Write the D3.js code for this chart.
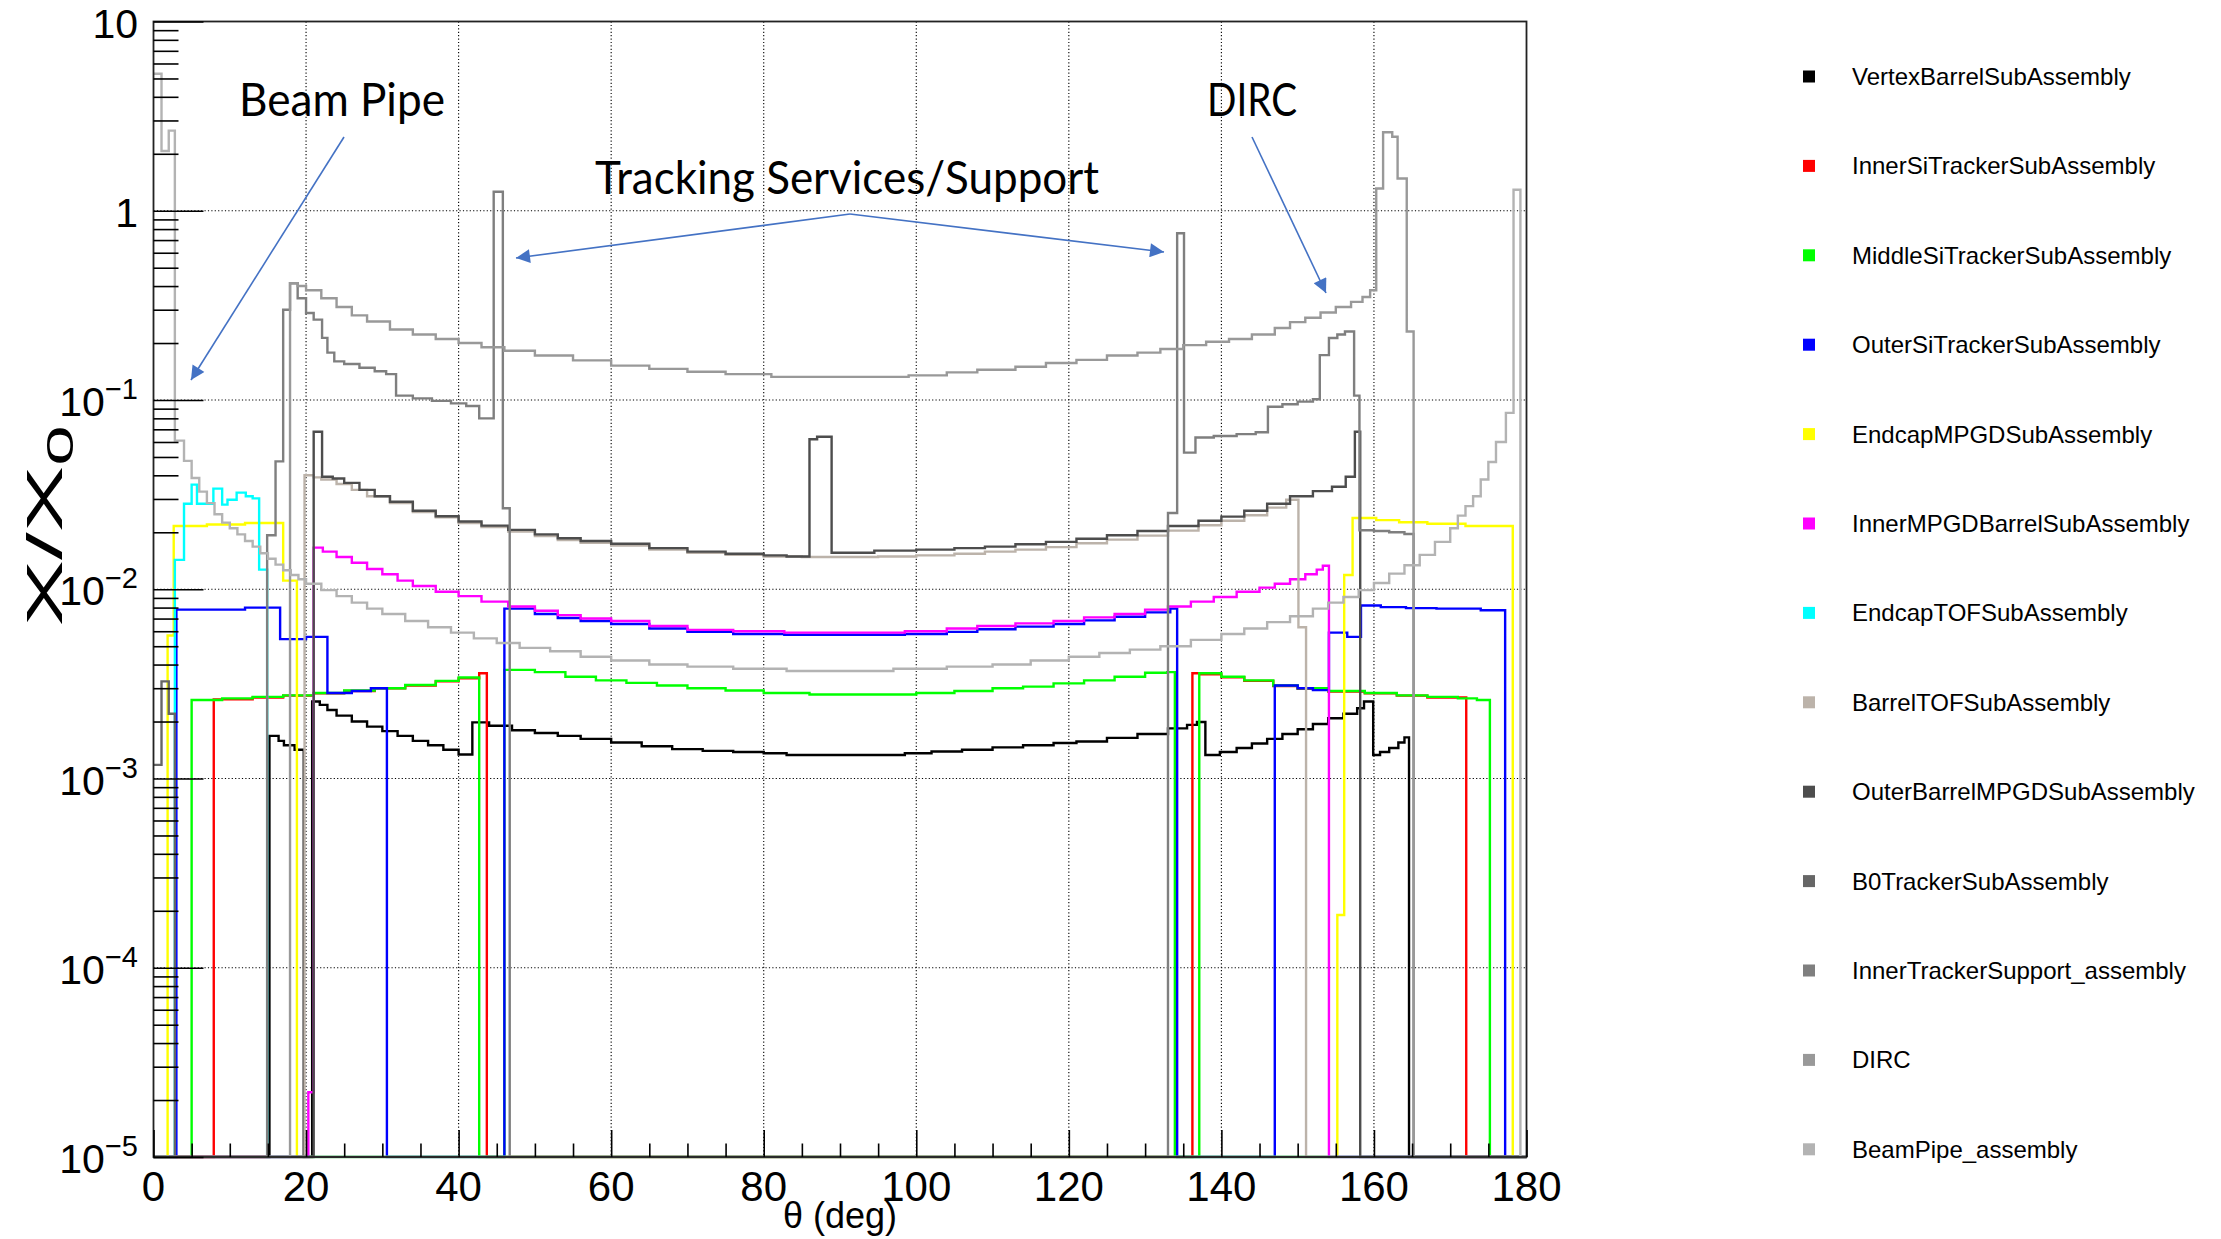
<!DOCTYPE html>
<html>
<head>
<meta charset="utf-8">
<script src="https://cdn.jsdelivr.net/npm/d3@7"></script>
<style>
  html, body { margin: 0; padding: 0; background: #ffffff; }
  svg { display: block; }
</style>
</head>
<body>
<svg id="chart" width="2221" height="1239"></svg>
<script>
// ---- axis ticks ----
var thetaMajor = [0, 20, 40, 60, 80, 100, 120, 140, 160, 180];
var yDecades = [1e-5, 1e-4, 1e-3, 1e-2, 1e-1, 1, 10];

// ---- legend ----
var seriesNames = ["VertexBarrelSubAssembly", "InnerSiTrackerSubAssembly", "MiddleSiTrackerSubAssembly",
  "OuterSiTrackerSubAssembly", "EndcapMPGDSubAssembly", "InnerMPGDBarrelSubAssembly", "EndcapTOFSubAssembly",
  "BarrelTOFSubAssembly", "OuterBarrelMPGDSubAssembly", "B0TrackerSubAssembly", "InnerTrackerSupport_assembly",
  "DIRC", "BeamPipe_assembly"];
var seriesColors = ["#000000", "#ff0000", "#00ff00", "#0000ff", "#ffff00", "#ff00ff", "#00ffff",
  "#bcb3aa", "#4d4d4d", "#666666", "#7f7f7f", "#999999", "#b3b3b3"];

// ---- series: [theta, X/X0] pairs, value holds until the next theta, 0 = empty bin ----
var vertexBarrel = [[15.2, 1.68e-3], [16.4, 1.58e-3], [17.1, 1.5e-3], [18.5, 1.42e-3], [19.7, 0],
  [20.8, 2.55e-3], [21.8, 2.45e-3], [22.8, 2.3e-3], [24, 2.15e-3], [26, 2.0e-3], [28, 1.88e-3], [30, 1.78e-3],
  [32, 1.68e-3], [34, 1.58e-3], [36, 1.5e-3], [38, 1.42e-3], [40, 1.34e-3], [41.8, 1.98e-3], [44, 1.9e-3],
  [47, 1.8e-3], [50, 1.74e-3], [53, 1.68e-3], [56, 1.62e-3], [60, 1.55e-3], [64, 1.48e-3], [68, 1.43e-3],
  [72, 1.4e-3], [76, 1.38e-3], [80, 1.36e-3], [83, 1.33e-3], [98.5, 1.36e-3], [102, 1.39e-3], [106, 1.42e-3],
  [110, 1.46e-3], [114, 1.5e-3], [118, 1.54e-3], [121, 1.57e-3], [125, 1.64e-3], [129, 1.72e-3],
  [133, 1.84e-3], [135.5, 1.92e-3], [136.8, 1.99e-3], [137.9, 1.33e-3], [139.8, 1.38e-3], [142, 1.45e-3],
  [144, 1.53e-3], [146, 1.62e-3], [148, 1.72e-3], [150, 1.82e-3], [152, 1.94e-3], [154, 2.08e-3],
  [156, 2.2e-3], [157.8, 2.35e-3], [158.7, 2.55e-3], [159.9, 1.33e-3], [160.8, 1.38e-3], [162, 1.45e-3],
  [163.2, 1.55e-3], [164, 1.65e-3], [164.6, 0]];

var innerSiTracker = [[7.9, 2.62e-3], [13, 2.68e-3], [17, 2.74e-3], [21, 2.82e-3], [25, 2.9e-3], [29, 3.0e-3],
  [33, 3.1e-3], [37, 3.26e-3], [40, 3.38e-3], [42.7, 3.6e-3], [43.7, 0],
  [136.2, 3.6e-3], [137.2, 3.55e-3], [140, 3.43e-3], [143, 3.28e-3], [146.8, 3.08e-3], [150, 2.98e-3],
  [154, 2.88e-3], [158.8, 2.82e-3], [163, 2.74e-3], [167, 2.68e-3], [172.1, 0]];

var middleSiTracker = [[5.0, 2.6e-3], [9, 2.65e-3], [13, 2.7e-3], [17, 2.75e-3], [21, 2.83e-3], [25, 2.92e-3],
  [29, 3.0e-3], [33, 3.12e-3], [37, 3.28e-3], [40, 3.42e-3], [42.7, 0],
  [46.0, 3.75e-3], [50, 3.65e-3], [54, 3.45e-3], [58, 3.3e-3], [62, 3.2e-3], [66, 3.1e-3], [70, 3.0e-3],
  [75, 2.92e-3], [80, 2.83e-3], [86, 2.78e-3], [94, 2.78e-3], [100, 2.83e-3], [105, 2.9e-3], [110, 3.0e-3],
  [114, 3.06e-3], [118, 3.18e-3], [122, 3.3e-3], [126, 3.45e-3], [130, 3.62e-3], [132.9, 3.65e-3], [133.9, 0],
  [137.1, 3.6e-3], [140, 3.45e-3], [143, 3.3e-3], [146.8, 3.1e-3], [150, 3.0e-3], [154, 2.9e-3],
  [158.8, 2.83e-3], [163, 2.75e-3], [167, 2.7e-3], [171, 2.65e-3], [173.5, 2.6e-3], [175.2, 0]];

var outerSiTracker = [[3.0, 7.8e-3], [12.0, 8.0e-3], [16.6, 5.45e-3], [20, 5.6e-3], [22.8, 2.83e-3],
  [26, 2.9e-3], [28.5, 3.0e-3], [30.6, 0],
  [46.0, 7.9e-3], [50, 7.4e-3], [53, 7.05e-3], [56, 6.8e-3], [60, 6.55e-3], [65, 6.2e-3], [70, 5.95e-3],
  [76, 5.8e-3], [82.7, 5.75e-3], [98.5, 5.8e-3], [104, 5.95e-3], [108, 6.15e-3], [113, 6.35e-3],
  [118, 6.55e-3], [122, 6.85e-3], [126, 7.15e-3], [130, 7.55e-3], [133.3, 7.9e-3], [134.2, 0],
  [147.0, 3.1e-3], [150, 3.0e-3], [152, 2.93e-3], [154.1, 5.9e-3], [156.5, 5.6e-3], [158.3, 8.2e-3],
  [160.9, 8.05e-3], [164.2, 7.95e-3], [168.2, 7.9e-3], [174.0, 7.75e-3], [177.2, 0]];

var endcapMPGD = [[1.85, 5.7e-3], [2.65, 0.0216], [7, 0.022], [12, 0.0224], [17.0, 0.0111], [18.8, 0],
  [155.2, 1.9e-4], [156.1, 0.0119], [157.2, 0.0238], [160.3, 0.0232], [163.3, 0.0226], [167, 0.0222],
  [172, 0.0216], [178.2, 0]];

var innerMPGDBarrel = [[20.3, 2.2e-5], [21.0, 0.0166], [22.2, 0.0158], [24, 0.0148], [26, 0.0138],
  [28, 0.0128], [30, 0.012], [32, 0.0111], [34, 0.0104], [37, 0.0097], [40, 0.0092], [43, 0.0086],
  [46.5, 0.0081], [50, 0.0077], [53, 0.0073], [56, 0.007], [60, 0.0068], [65, 0.0064], [70, 0.0061],
  [76, 0.006], [82.7, 0.0059], [98.5, 0.006], [104, 0.0062], [108, 0.0064], [113, 0.0066], [118, 0.0068],
  [122, 0.0071], [126, 0.0074], [130, 0.0078], [133, 0.0081], [136, 0.0086], [139, 0.0091], [142, 0.0097],
  [145, 0.0102], [147, 0.0107], [149, 0.0113], [151, 0.012], [152.5, 0.0127], [153.3, 0.0133], [154.1, 0]];

var endcapTOF = [[2.8, 0.0143], [4.0, 0.0283], [5.0, 0.0357], [5.7, 0.0283], [7.85, 0.034], [9.0, 0.028],
  [9.7, 0.0297], [10.9, 0.0324], [12.1, 0.031], [13.0, 0.0302], [13.85, 0.0127], [14.9, 0]];

var barrelTOF = [[19.8, 0.040], [21.0, 0.039], [22, 0.038], [24, 0.036], [26, 0.0335], [28, 0.031],
  [31, 0.0285], [34, 0.0256], [37, 0.024], [40, 0.0224], [43, 0.0213], [46.5, 0.0202], [50, 0.0191],
  [53, 0.0182], [56, 0.0176], [60, 0.017], [65, 0.0162], [70, 0.0156], [75, 0.0152], [80, 0.0149],
  [85, 0.0148], [95, 0.0149], [100, 0.0151], [105, 0.0154], [109, 0.0158], [113, 0.0162], [117, 0.0167],
  [121, 0.0175], [125, 0.0183], [129, 0.0192], [133, 0.0204], [137, 0.0218], [140, 0.023], [143, 0.0246],
  [146, 0.027], [148.5, 0.0297], [150.1, 0.0063], [151.1, 0]];

var outerBarrelMPGD = [[21.0, 0.068], [22.1, 0.0393], [23.5, 0.0385], [25, 0.0365], [27, 0.0335],
  [29, 0.031], [31, 0.029], [34, 0.026], [37, 0.0243], [40, 0.0228], [43, 0.0217], [46.5, 0.0206],
  [50, 0.0195], [53, 0.0186], [56, 0.018], [60, 0.0174], [65, 0.0165], [70, 0.0158], [75, 0.0154],
  [80, 0.0151], [83, 0.0149], [86.0, 0.062], [87, 0.064], [88.9, 0.0156], [94.5, 0.016], [100, 0.0162],
  [105, 0.0165], [109, 0.0168], [113, 0.0173], [117, 0.0178], [121, 0.0185], [125, 0.0193], [129, 0.0203],
  [133, 0.0216], [137, 0.023], [140, 0.0242], [143, 0.026], [146, 0.0283], [149, 0.031], [152, 0.033],
  [154.5, 0.0348], [156.3, 0.0393], [157.5, 0.068], [158.2, 0]];

var b0Tracker = [[0, 1.18e-3], [1.05, 3.26e-3], [2.0, 2.2e-3], [2.8, 0]];

var innerTrackerSupport = [[14.9, 0.0193], [16.0, 0.0474], [17.0, 0.30], [17.9, 0.414], [18.9, 0.345],
  [20.0, 0.288], [21.0, 0.266], [22.1, 0.213], [22.8, 0.178], [23.7, 0.16], [25, 0.155], [27, 0.148],
  [29, 0.142], [30.5, 0.137], [31.8, 0.1055], [34, 0.102], [36.5, 0.099], [39, 0.096], [41, 0.093],
  [42.7, 0.080], [44.6, 1.26], [45.8, 0.0268], [46.7, 0],
  [133.0, 0.0253], [134.2, 0.76], [135.1, 0.0527], [136.6, 0.0634], [139, 0.0645], [142, 0.066],
  [144.5, 0.0675], [146.1, 0.0922], [148, 0.095], [150, 0.098], [152, 0.101], [152.9, 0.1726],
  [154.1, 0.2127], [155.2, 0.222], [156.2, 0.23], [157.4, 0.1055], [158.1, 0.0205], [160, 0.0203],
  [162, 0.020], [164, 0.0196], [165.2, 0]];

var dirc = [[17.9, 0.414], [18.9, 0.40], [20, 0.38], [22, 0.345], [24, 0.31], [26, 0.28], [28, 0.26],
  [31, 0.236], [34, 0.222], [37, 0.21], [40, 0.2], [43, 0.19], [46, 0.182], [50, 0.172], [55, 0.162],
  [60, 0.152], [65, 0.146], [70, 0.141], [75, 0.137], [81, 0.1325], [99, 0.135], [104, 0.14], [108, 0.1445],
  [113, 0.15], [117, 0.157], [121, 0.163], [125, 0.172], [129, 0.178], [132, 0.186], [135, 0.195],
  [138, 0.203], [141, 0.21], [144, 0.222], [147, 0.24], [149, 0.258], [151, 0.272], [153, 0.29],
  [155, 0.31], [157, 0.33], [158.5, 0.35], [159.5, 0.38], [160.3, 1.31], [161.2, 2.60], [162.4, 2.46],
  [163.1, 1.48], [164.3, 0.23], [165.2, 0]];

var beamPipe = [[0, 5.3], [1.05, 2.07], [2.0, 2.65], [2.8, 0.061], [4, 0.0477], [5, 0.0387], [6, 0.0328],
  [7, 0.0285], [8, 0.0249], [9, 0.0225], [10, 0.021], [11, 0.0195], [12, 0.018], [13, 0.0168],
  [14, 0.0155], [15, 0.0145], [16, 0.0135], [17, 0.0126], [18, 0.0119], [19, 0.0113], [20, 0.0107],
  [22, 0.0099], [24, 0.0092], [26, 0.0085], [28, 0.0079], [30, 0.0074], [33, 0.0068], [36, 0.0063],
  [39, 0.0059], [42, 0.0055], [45, 0.0052], [48, 0.0049], [52, 0.0047], [56, 0.0044], [60, 0.0042],
  [65, 0.004], [70, 0.0039], [76, 0.0038], [83, 0.0037], [97, 0.0038], [104, 0.0039], [110, 0.004],
  [115, 0.0042], [120, 0.0044], [124, 0.0046], [128, 0.0048], [132, 0.005], [136, 0.0054], [140, 0.0058],
  [143, 0.0062], [146, 0.0067], [149, 0.0072], [152, 0.0079], [154, 0.0085], [156, 0.0091], [158, 0.0099],
  [160, 0.0108], [162, 0.0121], [164, 0.0134], [166, 0.0152], [168, 0.0178], [170, 0.021], [171, 0.0245],
  [172, 0.0275], [173, 0.031], [174, 0.038], [175, 0.047], [176, 0.06], [177.3, 0.0855], [178.3, 1.29],
  [179.2, 0]];

var allSeries = [vertexBarrel, innerSiTracker, middleSiTracker, outerSiTracker, endcapMPGD, innerMPGDBarrel,
  endcapTOF, barrelTOF, outerBarrelMPGD, b0Tracker, innerTrackerSupport, dirc, beamPipe];

// ---- annotations ----
var noteLabels = [
  {text: "Beam Pipe", x: 239, y: 116, len: 206},
  {text: "Tracking Services/Support", x: 595, y: 194, len: 504},
  {text: "DIRC", x: 1207, y: 116, len: 90}
];
var noteArrows = [
  [[344, 137], [191, 380]],
  [[850, 214], [516, 258]],
  [[850, 214], [1164, 252]],
  [[1252, 137], [1326, 293]]
];

// ---- frame ----
var frame = {left: 153.5, right: 1526.5, top: 21.5, bottom: 1157};

var svg = d3.select("#chart");
var x = d3.scaleLinear().domain([0, 180]).range([frame.left, frame.right]);
var y = d3.scaleLog().domain([1e-5, 10]).range([frame.bottom, frame.top]);

svg.append("rect").attr("width", 2221).attr("height", 1239).attr("fill", "#ffffff");

// dotted grid
var grid = svg.append("g").attr("stroke", "#000").attr("stroke-width", 1.1).attr("stroke-dasharray", "1.2,2.2");
grid.selectAll(".gx").data(thetaMajor.slice(1, -1)).enter().append("line")
  .attr("x1", function(d) { return x(d); }).attr("x2", function(d) { return x(d); })
  .attr("y1", frame.top).attr("y2", frame.bottom);
grid.selectAll(".gy").data(yDecades.slice(1, -1)).enter().append("line")
  .attr("x1", frame.left).attr("x2", frame.right)
  .attr("y1", function(d) { return y(d); }).attr("y2", function(d) { return y(d); });

// histograms
svg.append("clipPath").attr("id", "plotClip").append("rect")
  .attr("x", frame.left - 3).attr("y", frame.top - 3)
  .attr("width", frame.right - frame.left + 6).attr("height", frame.bottom - frame.top + 4.5);

function histPoints(steps) {
  var pts = [];
  if (steps[0][0] > 0) pts.push([0, 0]);
  steps.forEach(function(s) { pts.push(s); });
  var last = steps[steps.length - 1];
  if (last[0] < 180) pts.push([180, last[1]]);
  return pts;
}

var histLine = d3.line()
  .x(function(d) { return x(d[0]); })
  .y(function(d) { return d[1] > 0 ? y(d[1]) : frame.bottom; })
  .curve(d3.curveStepAfter);

svg.append("g").attr("clip-path", "url(#plotClip)")
  .selectAll("path").data(allSeries).enter().append("path")
  .attr("d", function(d) { return histLine(histPoints(d)); })
  .attr("fill", "none")
  .attr("stroke", function(d, i) { return seriesColors[i]; })
  .attr("stroke-width", 2.4)
  .attr("stroke-linejoin", "miter");

// frame
svg.append("rect")
  .attr("x", frame.left).attr("y", frame.top)
  .attr("width", frame.right - frame.left).attr("height", frame.bottom - frame.top)
  .attr("fill", "none").attr("stroke", "#222").attr("stroke-width", 1.8);

// x axis ticks (inside)
var thetaMinor = d3.range(0, 181, 5).filter(function(d) { return d % 20 !== 0; });
svg.append("g").attr("transform", "translate(0," + frame.bottom + ")")
  .call(d3.axisBottom(x).tickValues(thetaMajor).tickSize(-27).tickFormat(""))
  .call(function(g) { g.select(".domain").remove(); g.selectAll("line").attr("stroke", "#000").attr("stroke-width", 1.6); });
svg.append("g").attr("transform", "translate(0," + frame.bottom + ")")
  .call(d3.axisBottom(x).tickValues(thetaMinor).tickSize(-13.5).tickFormat(""))
  .call(function(g) { g.select(".domain").remove(); g.selectAll("line").attr("stroke", "#000").attr("stroke-width", 1.6); });

// y axis ticks (inside)
var yMinor = [];
yDecades.slice(0, -1).forEach(function(dec) {
  for (var m = 2; m <= 9; m++) yMinor.push(dec * m);
});
svg.append("g").attr("transform", "translate(" + frame.left + ",0)")
  .call(d3.axisLeft(y).tickValues(yDecades).tickSize(-50).tickFormat(""))
  .call(function(g) { g.select(".domain").remove(); g.selectAll("line").attr("stroke", "#000").attr("stroke-width", 1.6); });
svg.append("g").attr("transform", "translate(" + frame.left + ",0)")
  .call(d3.axisLeft(y).tickValues(yMinor).tickSize(-25).tickFormat(""))
  .call(function(g) { g.select(".domain").remove(); g.selectAll("line").attr("stroke", "#000").attr("stroke-width", 1.6); });

// tick labels
var labelFont = "'Liberation Sans', Arial, Helvetica, sans-serif";
svg.append("g").selectAll("text").data(thetaMajor).enter().append("text")
  .attr("x", function(d) { return x(d); }).attr("y", 1201)
  .attr("text-anchor", "middle").attr("font-family", labelFont).attr("font-size", 42)
  .text(function(d) { return d; });

var yLabels = svg.append("g").selectAll("text").data(yDecades).enter().append("text")
  .attr("x", 138).attr("y", function(d) { return y(d) + 16; })
  .attr("text-anchor", "end").attr("font-family", labelFont).attr("font-size", 41);
yLabels.each(function(d) {
  var t = d3.select(this);
  var p = Math.round(Math.log10(d));
  if (p === 1) { t.text("10"); return; }
  if (p === 0) { t.text("1"); return; }
  t.append("tspan").text("10");
  t.append("tspan").attr("font-size", 29).attr("dy", -17).text("\u2212" + Math.abs(p));
});

// axis titles
svg.append("text").attr("x", x(90)).attr("y", 1228)
  .attr("text-anchor", "middle").attr("font-family", labelFont).attr("font-size", 36)
  .text("\u03b8 (deg)");

var yTitle = svg.append("text")
  .attr("transform", "translate(62,526) rotate(-90) scale(2.0,1)")
  .attr("text-anchor", "middle").attr("font-family", labelFont).attr("font-size", 50);
yTitle.append("tspan").text("X/X");
yTitle.append("tspan").attr("font-size", 36).attr("dy", 11).text("0");

// annotations
var noteColor = "#4472c4";
var defs = svg.append("defs");
defs.append("marker").attr("id", "arrowHead")
  .attr("viewBox", "0 0 10 10").attr("refX", 10).attr("refY", 5)
  .attr("markerWidth", 17).attr("markerHeight", 14).attr("markerUnits", "userSpaceOnUse")
  .attr("orient", "auto")
  .append("path").attr("d", "M0,0 L10,5 L0,10 Z").attr("fill", noteColor);

svg.append("g").selectAll("line").data(noteArrows).enter().append("line")
  .attr("x1", function(d) { return d[0][0]; }).attr("y1", function(d) { return d[0][1]; })
  .attr("x2", function(d) { return d[1][0]; }).attr("y2", function(d) { return d[1][1]; })
  .attr("stroke", noteColor).attr("stroke-width", 1.6)
  .attr("marker-end", "url(#arrowHead)");

svg.append("g").selectAll("text").data(noteLabels).enter().append("text")
  .attr("x", function(d) { return d.x; }).attr("y", function(d) { return d.y; })
  .attr("font-family", "Lato, 'Open Sans', sans-serif").attr("font-size", 46)
  .attr("textLength", function(d) { return d.len; }).attr("lengthAdjust", "spacingAndGlyphs")
  .attr("fill", "#000")
  .text(function(d) { return d.text; });

// legend
var legend = svg.append("g").selectAll("g").data(seriesNames).enter().append("g")
  .attr("transform", function(d, i) { return "translate(1803," + (76.5 + i * 89.4) + ")"; });
legend.append("rect").attr("x", 0).attr("y", -6).attr("width", 12).attr("height", 12)
  .attr("fill", function(d, i) { return seriesColors[i]; });
legend.append("text").attr("x", 49).attr("y", 0).attr("dy", "0.35em")
  .attr("font-family", labelFont).attr("font-size", 24).attr("fill", "#000")
  .text(function(d) { return d; });
</script>
</body>
</html>
